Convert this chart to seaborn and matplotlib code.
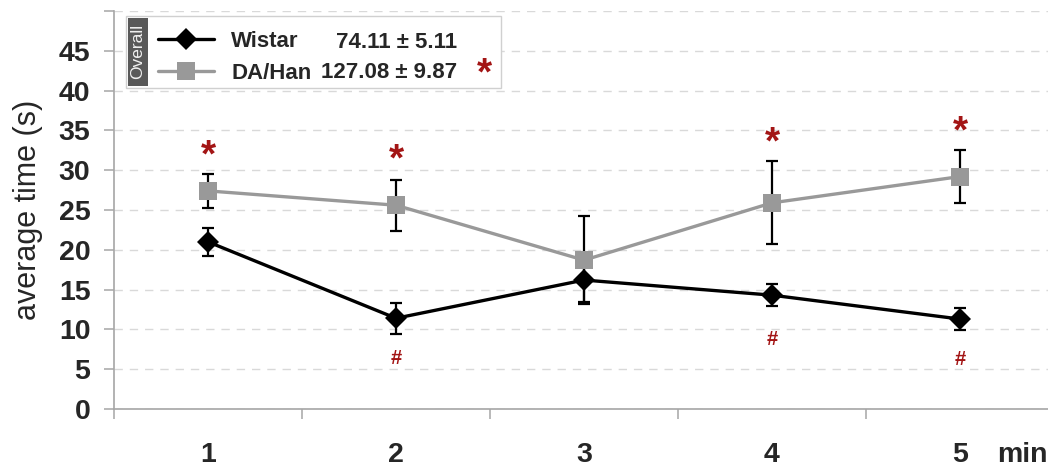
import numpy as np
import pandas as pd
import matplotlib
matplotlib.use("Agg")
import matplotlib.pyplot as plt
import seaborn as sns
from matplotlib.patches import Rectangle
from matplotlib.lines import Line2D

# ---------------- data ----------------
minutes = ["1", "2", "3", "4", "5"]
wistar_mean = [21.0, 11.4, 16.2, 14.3, 11.3]
wistar_sem = [1.8, 1.95, 2.7, 1.4, 1.35]
dahan_mean = [27.4, 25.6, 18.7, 25.9, 29.2]
dahan_sem = [2.1, 3.2, 5.5, 5.2, 3.3]
# heights (in s) of significance marks
star_y = [32.2, 31.7, None, 33.9, 35.2]   # strain difference (*)
hash_y = [None, 6.3, None, 8.7, 6.2]      # vs minute 1 (#)
groups = ["Wistar", "DA/Han"]
overall_text = ["74.11 \u00b1 5.11", "127.08 \u00b1 9.87"]
overall_star = [False, True]
y_ticks = [0, 5, 10, 15, 20, 25, 30, 35, 40, 45, 50]
y_ticklabels = ["0", "5", "10", "15", "20", "25", "30", "35", "40", "45", ""]

RED = "#a31515"
GRAY = "#999999"

sns.set_theme(style="white")
plt.rcParams["font.family"] = ["Liberation Sans", "DejaVu Sans"]

W, H = 1048, 471
fig = plt.figure(figsize=(W / 100, H / 100), dpi=100)

def fx(px):
    return px / W

def fy(py):
    return 1 - py / H

ax = fig.add_axes([fx(114), fy(409), fx(1054) - fx(114), fy(11) - fy(409)])

pos = np.arange(len(minutes))
df = pd.DataFrame({
    "pos": np.concatenate([pos, pos]),
    "mean": wistar_mean + dahan_mean,
    "sem": wistar_sem + dahan_sem,
    "group": [groups[0]] * len(minutes) + [groups[1]] * len(minutes),
})

palette = {groups[0]: "black", groups[1]: GRAY}
markers = {groups[0]: "D", groups[1]: "s"}
msizes = {groups[0]: 11.5, groups[1]: 12.5}

# grid
ax.set_ylim(0, 50)
ax.set_xlim(-0.5, len(minutes) - 0.5)
ax.set_yticks(y_ticks)
ax.yaxis.grid(True, linestyle=(0, (6, 5)), color="#d9d9d9", linewidth=1.0)
ax.xaxis.grid(False)
ax.set_axisbelow(True)

# error bars (black for both)
for g in groups:
    sub = df[df.group == g]
    ax.errorbar(sub["pos"], sub["mean"], yerr=sub["sem"], fmt="none",
                ecolor="black", elinewidth=1.6, capsize=4.5, capthick=1.6, zorder=2)

# lines (seaborn), one call per group so each gets its own marker size
for g in groups:
    sns.lineplot(data=df[df.group == g], x="pos", y="mean", color=palette[g],
                 marker=markers[g], linewidth=2.4, markersize=msizes[g],
                 markeredgewidth=0, ax=ax, legend=False, zorder=3, errorbar=None)

# significance annotations
for i in range(len(minutes)):
    if star_y[i] is not None:
        ax.text(pos[i], star_y[i], "*", ha="center", va="center_baseline",
                color=RED, fontsize=28, fontweight="bold")
    if hash_y[i] is not None:
        ax.text(pos[i], hash_y[i], "#", ha="center", va="center",
                color=RED, fontsize=14.5, fontweight="bold")

# axes styling
for s in ["top", "right"]:
    ax.spines[s].set_visible(False)
for s in ["left", "bottom"]:
    ax.spines[s].set_color("#a6a6a6")
    ax.spines[s].set_linewidth(1.2)

TICK_FS = 20.5
ax.set_yticklabels(y_ticklabels, fontsize=TICK_FS, fontweight="bold")
ax.tick_params(axis="y", which="major", direction="out", length=7, width=1.1,
               color="#a6a6a6", pad=10, left=True)
ax.set_xticks(pos)
ax.set_xticklabels(minutes, fontsize=TICK_FS, fontweight="bold")
ax.set_xticks(np.arange(-0.5, len(minutes), 1.0), minor=True)
ax.tick_params(axis="x", which="major", length=0, pad=23.5)
ax.tick_params(axis="x", which="minor", direction="out", length=7, width=1.1,
               color="#a6a6a6", bottom=True)
ax.set_xlabel("")
ax.set_ylabel("average time (s)", fontsize=22)
ax.yaxis.set_label_coords(-0.0755, 0.5)

ax.annotate("min", xy=(pos[-1], 0), xycoords=("data", "axes fraction"),
            xytext=(27, -23.5), textcoords="offset points", ha="left", va="top",
            fontsize=TICK_FS, fontweight="bold")

# legend box
fig.add_artist(Rectangle((fx(126), fy(88)), fx(501) - fx(126), fy(16) - fy(88),
                         transform=fig.transFigure, facecolor="white",
                         edgecolor="#d0d0d0", linewidth=1.0, zorder=5))
fig.add_artist(Rectangle((fx(128), fy(86)), fx(148) - fx(128), fy(18) - fy(86),
                         transform=fig.transFigure, facecolor="#595959",
                         edgecolor="none", zorder=6))
fig.text(fx(138), fy(51), "Overall", rotation=90, color="#f0f0f0", fontsize=12.5,
         ha="center", va="center", zorder=7)

LEG_FS = 16
leg_handles = [Line2D([], [], color=palette[g], marker=markers[g], linewidth=2.4,
                      markersize=msizes[g], markeredgewidth=0)
               for g in groups]
leg = fig.legend(leg_handles, groups, loc="upper left",
                 bbox_to_anchor=(fx(158), fy(31)), frameon=False,
                 prop={"size": LEG_FS, "weight": "bold"}, handlelength=2.5,
                 handletextpad=0.8, labelspacing=0.5, borderpad=0,
                 borderaxespad=0)
leg.set_zorder(8)

row_y = [42, 73]
for i in range(len(groups)):
    fig.text(fx(457), fy(row_y[i]), overall_text[i], ha="right", va="center",
             fontsize=LEG_FS, fontweight="bold", zorder=8)
    if overall_star[i]:
        fig.text(fx(484), fy(row_y[i] - 3), "*", ha="center", va="center_baseline",
                 fontsize=28, fontweight="bold", color=RED, zorder=8)

fig.savefig("out.png", dpi=100)
